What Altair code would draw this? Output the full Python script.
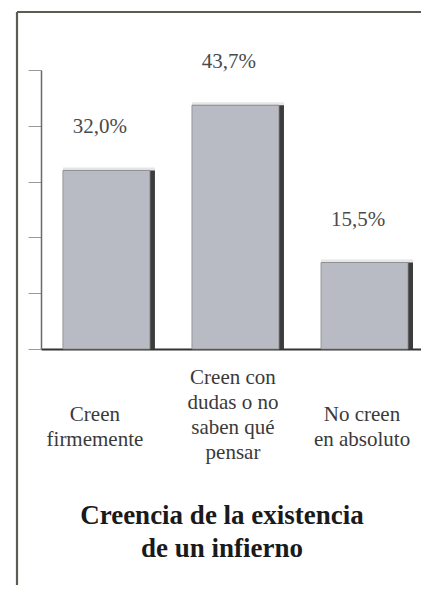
import json
import altair as alt
import pandas as pd

categories = ["Creen firmemente", "Creen con dudas o no saben qué pensar", "No creen en absoluto"]
category_lines = [["Creen", "firmemente"],
                  ["Creen con", "dudas o no", "saben qué", "pensar"],
                  ["No creen", "en absoluto"]]
values = [32.0, 43.7, 15.5]
value_labels = ["32,0%", "43,7%", "15,5%"]
y_ticks = [0, 10, 20, 30, 40, 50]
title_lines = ["Creencia de la existencia", "de un infierno"]

df = pd.DataFrame({"cat": categories, "value": values, "label": value_labels})

SERIF = "Liberation Serif"

cats_js = json.dumps(categories, ensure_ascii=False)
lines_js = json.dumps(category_lines, ensure_ascii=False)
label_expr = f"{lines_js}[indexof({cats_js}, datum.value)]"
many_lines = f"length({label_expr}) > 2"

x_enc = alt.X("cat:N", sort=categories,
              scale=alt.Scale(paddingInner=0.287, paddingOuter=0.116, align=0.733),
              axis=alt.Axis(title=None, labelAngle=0, ticks=False,
                            labelPadding={"condition": {"test": many_lines, "value": 28}, "value": 65},
                            labelOffset={"condition": {"test": f"indexof({cats_js}, datum.value) == 0", "value": -14}, "value": -5},
                            labelBaseline="middle", labelLineHeight=25,
                            labelFont=SERIF, labelFontSize=21, labelColor="#3a3a3a",
                            labelExpr=label_expr,
                            domainColor="#333333", domainWidth=2))
y_enc = alt.Y("value:Q", scale=alt.Scale(domain=[0, 50], nice=False),
              axis=alt.Axis(title=None, values=y_ticks, labels=False, grid=False,
                            tickSize=13, tickColor="#9a9a9a", tickWidth=1,
                            domainColor="#6a6a6a", domainWidth=1.5))

base = alt.Chart(df)

top_face = base.mark_bar(color="#e6e6e6", yOffset=-3, width={"band": 1}).encode(x=x_enc, y=y_enc)
side = base.mark_bar(color="#3c3c3c", width={"band": 1}).encode(x=x_enc, y=y_enc)
face = base.mark_bar(color="#b8bbc3", stroke="#8c8c8c", strokeWidth=0.8,
                     width={"band": 0.946}, xOffset=-2.5).encode(x=x_enc, y=y_enc)
text = base.mark_text(dy=-43, dx=-9, fontSize=21, font=SERIF, color="#4a4a4a",
                      baseline="middle").encode(x=x_enc, y=y_enc, text="label:N")

frame_df = pd.DataFrame({"z": [0]})
frame_top = alt.Chart(frame_df).mark_rule(color="#5e5a54", strokeWidth=2.2).encode(
    x=alt.value(-24), x2=alt.value(400), y=alt.value(-58))
frame_left = alt.Chart(frame_df).mark_rule(color="#5e5a54", strokeWidth=2.2).encode(
    x=alt.value(-24), y=alt.value(-58), y2=alt.value(515))

chart = alt.layer(frame_top, frame_left, top_face, side, face, text).properties(
    width=380, height=279,
    autosize=alt.AutoSizeParams(type="none"),
    padding={"left": 33, "top": 62, "right": 0, "bottom": 236},
    title=alt.TitleParams(title_lines, orient="bottom", anchor="middle", fontSize=27,
                          font=SERIF, fontWeight="bold", offset=-83, dx=-9,
                          lineHeight=33, baseline="top", color="#1a1a1a"),
    background="white",
).configure_view(stroke=None)

chart.save("out.html", embed_options={"renderer": "svg", "actions": False})
